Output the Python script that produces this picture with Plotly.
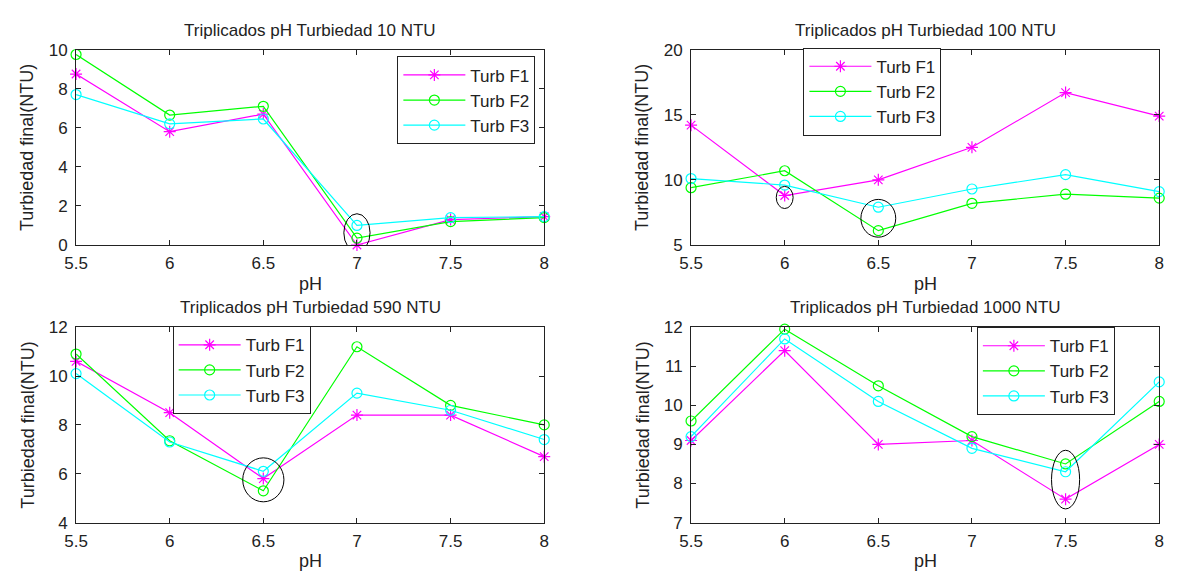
import plotly.graph_objects as go

W, H = 1178, 579

ph = [5.5, 6, 6.5, 7, 7.5, 8]
series_names = ["Turb F1", "Turb F2", "Turb F3"]

titles = ["Triplicados pH Turbiedad 10 NTU", "Triplicados pH Turbiedad 100 NTU",
          "Triplicados pH Turbiedad 590 NTU", "Triplicados pH Turbiedad 1000 NTU"]

# Panel 1: 10 NTU
f1_10 = [8.75, 5.8, 6.7, 0.0, 1.3, 1.45]
f2_10 = [9.75, 6.65, 7.1, 0.35, 1.2, 1.4]
f3_10 = [7.7, 6.2, 6.45, 1.0, 1.4, 1.45]
# Panel 2: 100 NTU
f1_100 = [14.2, 8.8, 10.0, 12.5, 16.7, 14.9]
f2_100 = [9.4, 10.7, 6.1, 8.2, 8.9, 8.6]
f3_100 = [10.1, 9.6, 7.9, 9.3, 10.4, 9.1]
# Panel 3: 590 NTU
f1_590 = [10.6, 8.5, 5.8, 8.4, 8.4, 6.7]
f2_590 = [10.9, 7.35, 5.3, 11.2, 8.8, 8.0]
f3_590 = [10.1, 7.3, 6.1, 9.3, 8.6, 7.4]
# Panel 4: 1000 NTU
f1_1000 = [9.1, 11.4, 9.0, 9.1, 7.6, 9.0]
f2_1000 = [9.6, 11.95, 10.5, 9.2, 8.5, 10.1]
f3_1000 = [9.2, 11.7, 10.1, 8.9, 8.3, 10.6]

y_ranges = [[0, 10], [5, 20], [4, 12], [7, 12]]
y_dticks = [2, 5, 2, 1]

# highlighted points (ellipses): (panel, x center, half width, y low, y high)
ellipses = [(0, 7.0, 0.07, -0.35, 1.6),
            (1, 6.0, 0.045, 7.8, 9.5),
            (1, 6.5, 0.093, 5.6, 8.5),
            (2, 6.5, 0.11, 4.85, 6.65),
            (3, 7.5, 0.075, 7.35, 8.85)]

panels = [(f1_10, f2_10, f3_10), (f1_100, f2_100, f3_100),
          (f1_590, f2_590, f3_590), (f1_1000, f2_1000, f3_1000)]

colors = ["#FF00FF", "#00FF00", "#00FFFF"]
symbols = ["asterisk-open", "circle-open", "circle-open"]

# pixel layout of plot boxes
xdom_px = [(65, 540), (689, 1164), (65, 540), (689, 1164)]
ydom_px = [(42, 244), (42, 244), (329, 531), (329, 531)]
legend_px = [(391, 49), (803, 40), (163, 328), (979, 329)]

FONT = "Liberation Sans, Arial, sans-serif"
TXT = "#222"
fig = go.Figure()

for i, data in enumerate(panels):
    ax = "" if i == 0 else str(i + 1)
    leg = "legend" if i == 0 else f"legend{i + 1}"
    for j, ys in enumerate(data):
        fig.add_trace(go.Scatter(
            x=ph, y=ys, name=series_names[j], mode="lines+markers",
            line=dict(color=colors[j], width=1.2),
            marker=dict(symbol=symbols[j], size=10,
                        color=colors[j], line=dict(color=colors[j], width=1.2)),
            xaxis="x" + ax, yaxis="y" + ax, legend=leg, cliponaxis=False,
        ))
    x0, x1 = xdom_px[i]
    y0, y1 = ydom_px[i]
    axis_common = dict(showline=True, linecolor=TXT, linewidth=1, mirror="ticks",
                       ticks="inside", ticklen=5, tickcolor=TXT, showgrid=False,
                       zeroline=False, tickfont=dict(family=FONT, size=17, color=TXT))
    fig.layout["xaxis" + ax] = dict(domain=[x0 / W, x1 / W], range=[5.5, 8], dtick=0.5,
                                    tick0=5.5, anchor="y" + ax, ticklabelstandoff=3,
                                    **axis_common)
    fig.layout["yaxis" + ax] = dict(domain=[1 - y1 / H, 1 - y0 / H], range=y_ranges[i],
                                    dtick=y_dticks[i], anchor="x" + ax, ticklabelstandoff=4,
                                    **axis_common)
    lx, ly = legend_px[i]
    fig.layout[leg] = dict(x=lx / W, y=1 - ly / H, xanchor="left", yanchor="top",
                           bgcolor="white", bordercolor=TXT, borderwidth=1,
                           font=dict(family=FONT, size=17, color=TXT),
                           itemwidth=62, tracegroupgap=0)
    # titles and axis labels
    fig.add_annotation(text=titles[i], x=(x0 + x1) / 2 / W, y=1 - (y0 - 20) / H,
                       xref="paper", yref="paper", showarrow=False, xanchor="center",
                       yanchor="middle", font=dict(family=FONT, size=17, color=TXT))
    fig.add_annotation(text="pH", x=(x0 + x1) / 2 / W, y=1 - (y1 + 40) / H,
                       xref="paper", yref="paper", showarrow=False, xanchor="center",
                       yanchor="middle", font=dict(family=FONT, size=18, color=TXT))
    fig.add_annotation(text="Turbiedad final(NTU)", x=(x0 - 49) / W, y=1 - (y0 + y1) / 2 / H,
                       xref="paper", yref="paper", showarrow=False, xanchor="center",
                       yanchor="middle", textangle=-90,
                       font=dict(family=FONT, size=18, color=TXT))

for (p, xc, hw, ylo, yhi) in ellipses:
    ax = "" if p == 0 else str(p + 1)
    fig.add_shape(type="circle", xref="x" + ax, yref="y" + ax,
                  x0=xc - hw, x1=xc + hw, y0=ylo, y1=yhi,
                  line=dict(color="black", width=1))

fig.update_layout(width=W, height=H, margin=dict(l=0, r=0, t=0, b=0),
                  paper_bgcolor="white", plot_bgcolor="white", showlegend=True)

fig.write_html("out.html")
